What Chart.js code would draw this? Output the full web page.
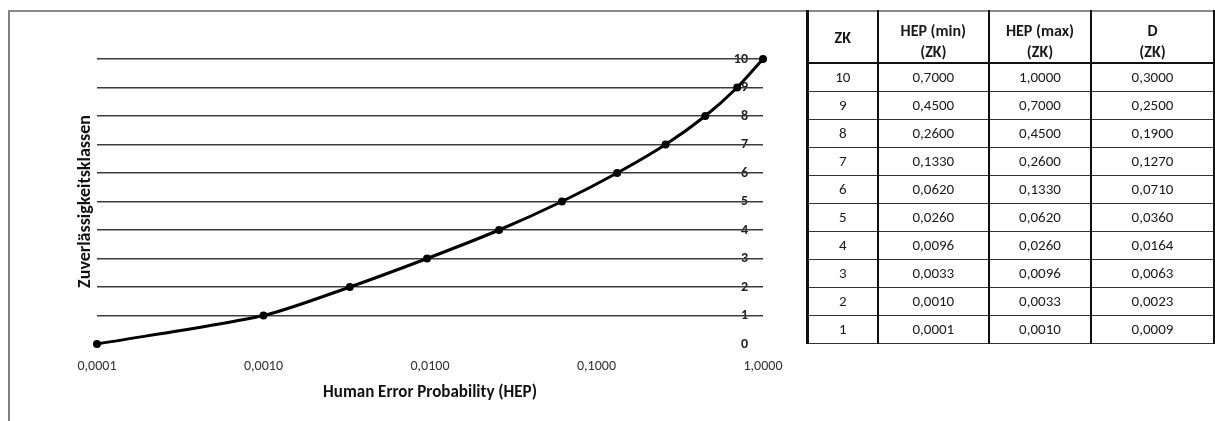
<!DOCTYPE html>
<html>
<head>
<meta charset="utf-8">
<script src="https://cdn.jsdelivr.net/npm/chart.js@4.4.1/dist/chart.umd.min.js"></script>
<style>
  html, body { margin: 0; padding: 0; background: #fff; overflow: hidden; }
  body { width: 1215px; height: 421px; position: relative; font-family: Carlito, Lato, sans-serif; }
  #chartBox {
    position: absolute; left: 8px; top: 10px; width: 798px; height: 420px;
    border-left: 2px solid #7f7f7f; border-top: 2px solid #8a8a8a;
  }
  #chartWrap { position: absolute; left: 0; top: 0; width: 797px; height: 409px; }
  #zkTable {
    position: absolute; left: 806px; top: 10px;
    border-collapse: collapse; table-layout: fixed; color: #1a1a1a;
    font-size: 15px;
  }
  #zkTable td, #zkTable th {
    text-align: center; padding: 0;
    border-left: 2px solid #111; border-right: 2px solid #111;
    border-bottom: 1.5px solid #333;
  }
  #zkTable th {
    font-weight: bold; font-size: 16px; height: 50px; line-height: 21px; vertical-align: bottom;
    border-top: 2px solid #8a8a8a; border-bottom: 2px solid #111;
  }
  #zkTable th.single { vertical-align: middle; }
  #zkTable td { height: 27px; line-height: 27px; }
  #zkTable tr td:first-child, #zkTable tr th:first-child { border-left: 3px solid #111; }
</style>
</head>
<body>
<div id="chartBox">
  <div id="chartWrap"><canvas id="hepChart"></canvas></div>
</div>
<table id="zkTable">
  <colgroup><col style="width:72px"><col style="width:114px"><col style="width:104px"><col style="width:126px"></colgroup>
  <thead id="zkHead"></thead>
  <tbody id="zkBody"></tbody>
</table>
<script>
const zkClasses = [10, 9, 8, 7, 6, 5, 4, 3, 2, 1];
const hepMin = [0.7, 0.45, 0.26, 0.133, 0.062, 0.026, 0.0096, 0.0033, 0.001, 0.0001];
const hepMax = [1.0, 0.7, 0.45, 0.26, 0.133, 0.062, 0.026, 0.0096, 0.0033, 0.001];
const dValues = [0.3, 0.25, 0.19, 0.127, 0.071, 0.036, 0.0164, 0.0063, 0.0023, 0.0009];

const xTickValues = [0.0001, 0.001, 0.01, 0.1, 1];
const yTickValues = [0, 1, 2, 3, 4, 5, 6, 7, 8, 9, 10];

const fontFamily = "Carlito, Lato, sans-serif";

function fmt(v) {
  return v.toFixed(4).replace(".", ",");
}

// Tabelle
const head = document.getElementById("zkHead");
head.innerHTML =
  '<tr><th class="single">ZK</th><th>HEP (min)<br>(ZK)</th><th>HEP (max)<br>(ZK)</th><th>D<br>(ZK)</th></tr>';
const body = document.getElementById("zkBody");
zkClasses.forEach((zk, i) => {
  const tr = document.createElement("tr");
  [String(zk), fmt(hepMin[i]), fmt(hepMax[i]), fmt(dValues[i])].forEach((t) => {
    const td = document.createElement("td");
    td.textContent = t;
    tr.appendChild(td);
  });
  body.appendChild(tr);
});

// Kurve: Klasse k endet bei HEP(max), Klasse 0 liegt bei der kleinsten HEP(min)
const curve = [{ x: hepMin[hepMin.length - 1], y: 0 }];
for (let i = zkClasses.length - 1; i >= 0; i--) {
  curve.push({ x: hepMax[i], y: zkClasses[i] });
}

// y-Beschriftung rechts im Diagramm, unter den Gitterlinien (wie im Original)
const innerYLabels = {
  id: "innerYLabels",
  beforeDraw(chart) {
    const { ctx, chartArea, scales } = chart;
    ctx.save();
    ctx.font = "bold 14px " + fontFamily;
    ctx.fillStyle = "#222";
    ctx.textAlign = "right";
    ctx.textBaseline = "middle";
    yTickValues.forEach((v) => {
      ctx.fillText(String(v), chartArea.right - 15, scales.y.getPixelForValue(v));
    });
    ctx.restore();
  },
};

const ctx = document.getElementById("hepChart").getContext("2d");
new Chart(ctx, {
  type: "line",
  data: {
    datasets: [
      {
        data: curve,
        borderColor: "#000",
        backgroundColor: "#000",
        borderWidth: 3,
        pointRadius: 4,
        pointBackgroundColor: "#000",
        pointBorderWidth: 0,
        tension: 0.25,
        clip: false,
      },
    ],
  },
  options: {
    responsive: true,
    maintainAspectRatio: false,
    animation: false,
    events: [],
    layout: { padding: { left: 61, right: 44, top: 47, bottom: 14 } },
    plugins: { legend: { display: false }, tooltip: { enabled: false } },
    scales: {
      x: {
        type: "logarithmic",
        min: 0.0001,
        max: 1,
        afterBuildTicks: (scale) => {
          scale.ticks = xTickValues.map((v) => ({ value: v }));
        },
        afterFit: (scale) => {
          scale.height = 63;
        },
        grid: { display: false, drawTicks: false },
        border: { display: false },
        ticks: {
          padding: 14,
          color: "#333",
          font: { family: fontFamily, size: 14 },
          maxRotation: 0,
          callback: (v) => fmt(Number(v)),
        },
        title: {
          display: true,
          text: "Human Error Probability (HEP)",
          color: "#111",
          font: { family: fontFamily, size: 17, weight: "bold" },
          padding: { top: 0, bottom: 4 },
        },
      },
      y: {
        position: "left",
        min: 0,
        max: 10,
        afterBuildTicks: (scale) => {
          scale.ticks = yTickValues.map((v) => ({ value: v }));
        },
        afterFit: (scale) => {
          scale.width = 26;
        },
        grid: {
          drawTicks: false,
          lineWidth: 1.6,
          color: (c) => (c.tick && c.tick.value === 0 ? "rgba(0,0,0,0)" : "#3c3c3c"),
        },
        border: { display: false },
        ticks: { display: false },
        title: {
          display: true,
          text: "Zuverlässigkeitsklassen",
          color: "#111",
          font: { family: fontFamily, size: 18, weight: "bold" },
          padding: { top: 4, bottom: 0 },
        },
      },
    },
  },
  plugins: [innerYLabels],
});
</script>
</body>
</html>
